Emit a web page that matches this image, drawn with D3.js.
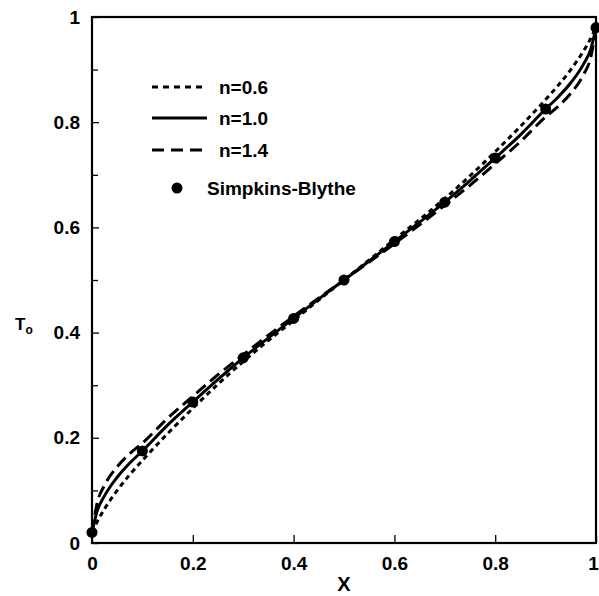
<!DOCTYPE html>
<html><head><meta charset="utf-8">
<script src="https://cdn.jsdelivr.net/npm/d3@7"></script>
<style>body{margin:0;background:#fff}svg{display:block}text{font-family:"Liberation Sans",Arial,sans-serif}</style>
</head><body><svg id="c" width="599" height="596"></svg>
<script>
const xGrid = [0, 0.01, 0.025, 0.05, 0.075, 0.1, 0.15, 0.2, 0.25, 0.3, 0.35, 0.4, 0.45, 0.5, 0.55, 0.6, 0.65, 0.7, 0.75, 0.8, 0.85, 0.9, 0.925, 0.95, 0.975, 0.99, 1];
const n06 = [0.02, 0.04, 0.065, 0.10, 0.13, 0.157, 0.208, 0.256, 0.302, 0.345, 0.385, 0.423, 0.462, 0.5, 0.538, 0.577, 0.615, 0.655, 0.698, 0.744, 0.792, 0.843, 0.87, 0.90, 0.935, 0.96, 0.98];
const n10 = [0.02, 0.06, 0.09, 0.125, 0.152, 0.175, 0.224, 0.268, 0.311, 0.352, 0.39, 0.427, 0.464, 0.5, 0.536, 0.573, 0.61, 0.648, 0.689, 0.732, 0.776, 0.825, 0.848, 0.875, 0.91, 0.94, 0.98];
const n14 = [0.02, 0.075, 0.11, 0.145, 0.17, 0.19, 0.237, 0.279, 0.32, 0.358, 0.395, 0.431, 0.466, 0.5, 0.534, 0.569, 0.605, 0.642, 0.68, 0.721, 0.763, 0.81, 0.83, 0.855, 0.89, 0.925, 0.98];
const sbX = [0, 0.1, 0.2, 0.3, 0.4, 0.5, 0.6, 0.7, 0.8, 0.9, 1];
const sbT = [0.02, 0.175, 0.268, 0.352, 0.427, 0.5, 0.573, 0.648, 0.732, 0.825, 0.98];
const xTicks = [0, 0.2, 0.4, 0.6, 0.8, 1];
const yTicks = [0, 0.2, 0.4, 0.6, 0.8, 1];
const yMinor = [0.1, 0.3, 0.5, 0.7, 0.9];
const seriesNames = ["n=0.6", "n=1.0", "n=1.4", "Simpkins-Blythe"];

const svg = d3.select("#c");
const L = 92, R = 596, T = 17, B = 543;
const x = d3.scaleLinear().domain([0, 1]).range([L, R]);
const y = d3.scaleLinear().domain([0, 1]).range([B, T]);
const fmt = d => d === 0 ? "0" : d === 1 ? "1" : d3.format(".1f")(d);

// axes with inward ticks
svg.append("g").attr("transform", `translate(0,${B})`)
  .call(d3.axisBottom(x).tickValues(xTicks).tickSize(-8).tickPadding(14).tickFormat(fmt))
  .call(g => { g.select(".domain").remove(); g.selectAll("line").attr("stroke-width", 1.3);
    g.selectAll("text").attr("font-size", 19).attr("font-weight", "bold").attr("fill", "#000");
    g.selectAll("text").filter(d => d === 1).attr("dx", -3); });
svg.append("g").attr("transform", `translate(${L},0)`)
  .call(d3.axisLeft(y).tickValues(yTicks).tickSize(-7).tickPadding(12).tickFormat(fmt))
  .call(g => { g.select(".domain").remove(); g.selectAll("line").attr("stroke-width", 1.3);
    g.selectAll("text").attr("font-size", 19).attr("font-weight", "bold").attr("fill", "#000"); });
svg.append("g").attr("transform", `translate(${L},0)`)
  .call(d3.axisLeft(y).tickValues(yMinor).tickSize(-6).tickFormat(""))
  .call(g => { g.select(".domain").remove(); g.selectAll("line").attr("stroke-width", 1.3); });

// frame
svg.append("rect").attr("x", L).attr("y", T).attr("width", R - L).attr("height", B - T)
  .attr("fill", "none").attr("stroke", "#000").attr("stroke-width", 2.2);

const line = arr => d3.line().x((d, i) => x(xGrid[i])).y(d => y(d)).curve(d3.curveMonotoneX)(arr);
const styles = [
  {data: n06, dash: "5,4"},
  {data: n10, dash: null},
  {data: n14, dash: "12,6"}
];
styles.forEach(s => {
  svg.append("path").attr("d", line(s.data)).attr("fill", "none").attr("stroke", "#000")
    .attr("stroke-width", 3).attr("stroke-dasharray", s.dash);
});

svg.append("g").selectAll("circle").data(sbX).join("circle")
  .attr("cx", d => x(d)).attr("cy", (d, i) => y(sbT[i])).attr("r", 5.5).attr("fill", "#000");

// legend
const legY = [87, 118, 150];
const legDash = ["6,5", null, "12,7"];
styles.forEach((s, i) => {
  svg.append("line").attr("x1", 152).attr("x2", 207).attr("y1", legY[i]).attr("y2", legY[i])
    .attr("stroke", "#000").attr("stroke-width", 3).attr("stroke-dasharray", legDash[i]);
  svg.append("text").attr("x", 219).attr("y", legY[i] + 7).attr("font-size", 19)
    .attr("font-weight", "bold").text(seriesNames[i]);
});
svg.append("circle").attr("cx", 177).attr("cy", 188).attr("r", 5.5).attr("fill", "#000");
svg.append("text").attr("x", 207).attr("y", 195).attr("font-size", 19).attr("font-weight", "bold").text(seriesNames[3]);

// axis titles
svg.append("text").attr("x", 344).attr("y", 591).attr("text-anchor", "middle")
  .attr("font-size", 20).attr("font-weight", "bold").text("X");
const tl = svg.append("text").attr("x", 15).attr("y", 330).attr("font-size", 17).attr("font-weight", "bold");
tl.append("tspan").text("T");
tl.append("tspan").attr("font-size", 12).attr("dy", 4).text("o");
</script></body></html>
